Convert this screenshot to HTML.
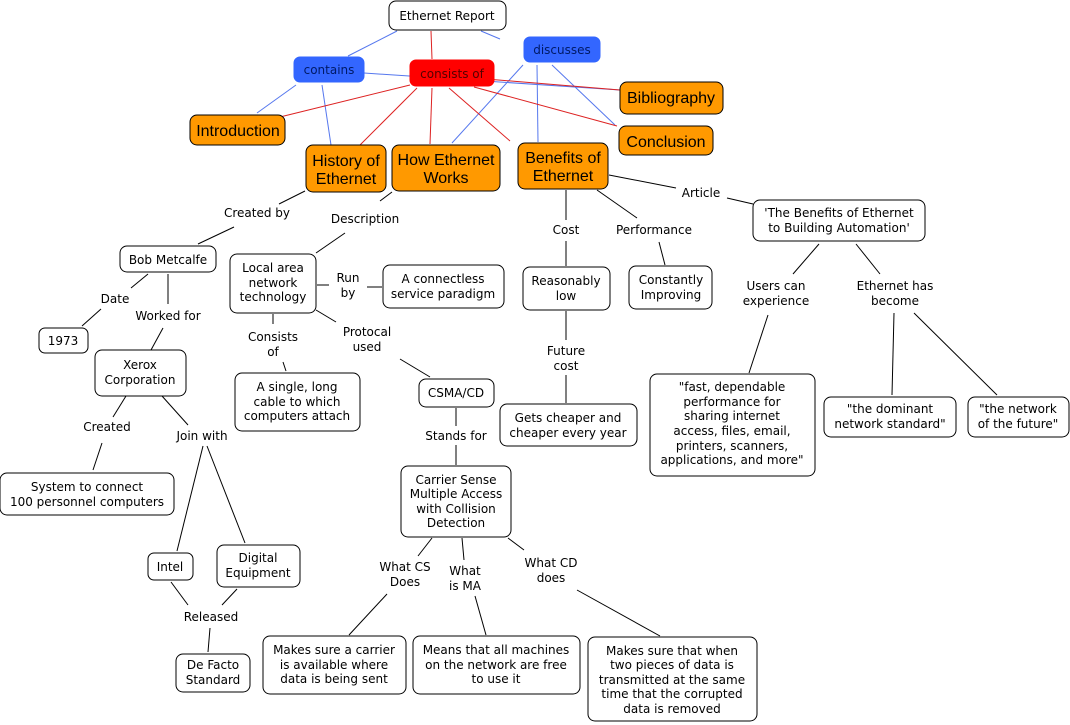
<!DOCTYPE html>
<html><head><meta charset="utf-8"><style>
html,body{margin:0;padding:0;background:#fff;}
svg{display:block;}
.n{fill:#fff;stroke:#000;stroke-width:1;}
.o{fill:#ff9900;stroke:#000;stroke-width:1;}
.b{fill:#3366ff;stroke:#3366ff;}
.r{fill:#ff0000;stroke:#ff0000;}
text{font-family:"DejaVu Sans","Liberation Sans",sans-serif;font-size:12px;fill:#000;text-anchor:middle;}
.big{font-family:"Liberation Sans",sans-serif;font-size:16px;}
.l{stroke:#000;stroke-width:1;fill:none;}
.lb{stroke:#5577ee;stroke-width:1;fill:none;}
.lr{stroke:#dd2222;stroke-width:1;fill:none;}
</style></head><body>
<svg width="1070" height="725" viewBox="0 0 1070 725">
<!-- blue lines -->
<g class="lb">
<line x1="397" y1="31" x2="348" y2="56"/>
<line x1="481" y1="31" x2="500" y2="39"/>
<line x1="296" y1="85" x2="257" y2="113"/>
<line x1="322" y1="85" x2="331" y2="145"/>
<line x1="364" y1="73" x2="620" y2="90"/>
<line x1="523" y1="65" x2="452" y2="143"/>
<line x1="537" y1="65" x2="538" y2="142"/>
<line x1="552" y1="65" x2="615" y2="125"/>
</g>
<g class="lr">
<line x1="431" y1="31" x2="432" y2="59"/>
<line x1="410" y1="85" x2="280" y2="117"/>
<line x1="417" y1="88" x2="360" y2="145"/>
<line x1="432" y1="88" x2="430" y2="144"/>
<line x1="449" y1="88" x2="510" y2="141"/>
<line x1="474" y1="78" x2="620" y2="90"/>
<line x1="474" y1="87" x2="617" y2="126"/>
</g>
<g class="l">
<line x1="305" y1="191" x2="279" y2="204"/>
<line x1="234" y1="227" x2="198" y2="244"/>
<line x1="392" y1="192" x2="380" y2="201"/>
<line x1="345" y1="233" x2="316" y2="253"/>
<line x1="148" y1="274" x2="131" y2="288"/>
<line x1="101" y1="309" x2="82" y2="326"/>
<line x1="168" y1="274" x2="168" y2="304"/>
<line x1="163" y1="328" x2="151" y2="350"/>
<line x1="126" y1="396" x2="113" y2="417"/>
<line x1="102" y1="443" x2="93" y2="470"/>
<line x1="162" y1="396" x2="188" y2="425"/>
<line x1="203" y1="446" x2="177" y2="551"/>
<line x1="207" y1="446" x2="245" y2="543"/>
<line x1="171" y1="582" x2="188" y2="605"/>
<line x1="237" y1="589" x2="222" y2="605"/>
<line x1="210" y1="628" x2="208" y2="652"/>
<line x1="317" y1="285" x2="329" y2="285"/>
<line x1="367" y1="287" x2="382" y2="287"/>
<line x1="273" y1="314" x2="273" y2="324"/>
<line x1="283" y1="362" x2="286" y2="371"/>
<line x1="316" y1="310" x2="336" y2="322"/>
<line x1="400" y1="359" x2="430" y2="377"/>
<line x1="456" y1="408" x2="456" y2="426"/>
<line x1="456" y1="445" x2="456" y2="465"/>
<line x1="432" y1="538" x2="418" y2="556"/>
<line x1="462" y1="538" x2="464" y2="560"/>
<line x1="508" y1="538" x2="524" y2="550"/>
<line x1="387" y1="594" x2="349" y2="635"/>
<line x1="475" y1="596" x2="486" y2="635"/>
<line x1="577" y1="590" x2="660" y2="636"/>
<line x1="566" y1="190" x2="566" y2="220"/>
<line x1="597" y1="190" x2="637" y2="218"/>
<line x1="566" y1="241" x2="566" y2="266"/>
<line x1="659" y1="242" x2="665" y2="265"/>
<line x1="566" y1="311" x2="566" y2="340"/>
<line x1="566" y1="375" x2="566" y2="403"/>
<line x1="609" y1="175" x2="676" y2="188"/>
<line x1="727" y1="198" x2="753" y2="204"/>
<line x1="819" y1="244" x2="793" y2="274"/>
<line x1="856" y1="244" x2="880" y2="274"/>
<line x1="768" y1="315" x2="749" y2="373"/>
<line x1="894" y1="313" x2="892" y2="395"/>
<line x1="914" y1="313" x2="997" y2="395"/>
</g>
<!-- colored nodes -->
<rect x="389" y="1" width="117" height="29" rx="7" class="n"/>
<text x="447" y="20">Ethernet Report</text>
<rect x="294" y="57" width="70" height="25" rx="6" class="b"/>
<text x="329" y="74" style="fill:#001a66">contains</text>
<rect x="410" y="60" width="84" height="26" rx="6" class="r"/>
<text x="452" y="78" style="fill:#550000">consists of</text>
<rect x="524" y="37" width="76" height="25" rx="6" class="b"/>
<text x="562" y="54" style="fill:#001a66">discusses</text>
<rect x="190" y="115" width="95" height="30" rx="7" class="o"/>
<text x="238" y="136" class="big">Introduction</text>
<rect x="306" y="145" width="80" height="47" rx="7" class="o"/>
<text x="346" y="166" class="big">History of</text><text x="346" y="184" class="big">Ethernet</text>
<rect x="392" y="145" width="108" height="46" rx="7" class="o"/>
<text x="446" y="165" class="big">How Ethernet</text><text x="446" y="183" class="big">Works</text>
<rect x="518" y="143" width="90" height="46" rx="7" class="o"/>
<text x="563" y="163" class="big">Benefits of</text><text x="563" y="181" class="big">Ethernet</text>
<rect x="620" y="82" width="103" height="32" rx="7" class="o"/>
<text x="671" y="103" class="big">Bibliography</text>
<rect x="619" y="126" width="94" height="29" rx="7" class="o"/>
<text x="666" y="147" class="big">Conclusion</text>
<!-- white nodes -->
<rect x="120" y="246" width="96" height="26" rx="7" class="n"/>
<text x="168" y="264">Bob Metcalfe</text>
<rect x="39" y="328" width="49" height="25" rx="6" class="n"/>
<text x="63" y="345">1973</text>
<rect x="95" y="350" width="91" height="46" rx="7" class="n"/>
<text x="140" y="369">Xerox</text><text x="140" y="384">Corporation</text>
<rect x="0" y="473" width="174" height="42" rx="7" class="n"/>
<text x="87" y="491">System to connect</text><text x="87" y="506">100 personnel computers</text>
<rect x="148" y="553" width="45" height="27" rx="6" class="n"/>
<text x="170" y="571">Intel</text>
<rect x="217" y="545" width="83" height="42" rx="7" class="n"/>
<text x="258" y="562">Digital</text><text x="258" y="577">Equipment</text>
<rect x="176" y="654" width="74" height="38" rx="7" class="n"/>
<text x="213" y="669">De Facto</text><text x="213" y="684">Standard</text>
<rect x="230" y="254" width="86" height="59" rx="7" class="n"/>
<text x="273" y="272">Local area</text><text x="273" y="287">network</text><text x="273" y="301">technology</text>
<rect x="383" y="265" width="121" height="43" rx="7" class="n"/>
<text x="443" y="283">A connectless</text><text x="443" y="298">service paradigm</text>
<rect x="235" y="373" width="125" height="58" rx="7" class="n"/>
<text x="297" y="391">A single, long</text><text x="297" y="406">cable to which</text><text x="297" y="420">computers attach</text>
<rect x="419" y="379" width="75" height="28" rx="7" class="n"/>
<text x="456" y="397">CSMA/CD</text>
<rect x="401" y="466" width="110" height="71" rx="7" class="n"/>
<text x="456" y="484">Carrier Sense</text><text x="456" y="498">Multiple Access</text><text x="456" y="513">with Collision</text><text x="456" y="527">Detection</text>
<rect x="263" y="636" width="143" height="58" rx="7" class="n"/>
<text x="334" y="654">Makes sure a carrier</text><text x="334" y="669">is available where</text><text x="334" y="683">data is being sent</text>
<rect x="413" y="636" width="167" height="58" rx="7" class="n"/>
<text x="496" y="654">Means that all machines</text><text x="496" y="669">on the network are free</text><text x="496" y="683">to use it</text>
<rect x="588" y="637" width="169" height="84" rx="7" class="n"/>
<text x="672" y="655">Makes sure that when</text><text x="672" y="669">two pieces of data is</text><text x="672" y="684">transmitted at the same</text><text x="672" y="698">time that the corrupted</text><text x="672" y="713">data is removed</text>
<rect x="523" y="267" width="87" height="43" rx="7" class="n"/>
<text x="566" y="285">Reasonably</text><text x="566" y="300">low</text>
<rect x="629" y="266" width="83" height="43" rx="7" class="n"/>
<text x="671" y="284">Constantly</text><text x="671" y="299">Improving</text>
<rect x="500" y="404" width="137" height="42" rx="7" class="n"/>
<text x="568" y="422">Gets cheaper and</text><text x="568" y="437">cheaper every year</text>
<rect x="753" y="200" width="172" height="41" rx="7" class="n"/>
<text x="839" y="217">'The Benefits of Ethernet</text><text x="839" y="232">to Building Automation'</text>
<rect x="650" y="374" width="165" height="102" rx="7" class="n"/>
<text x="732" y="391">"fast, dependable</text><text x="732" y="406">performance for</text><text x="732" y="420">sharing internet</text><text x="732" y="435">access, files, email,</text><text x="732" y="450">printers, scanners,</text><text x="732" y="464">applications, and more"</text>
<rect x="824" y="397" width="132" height="40" rx="7" class="n"/>
<text x="890" y="413">"the dominant</text><text x="890" y="428">network standard"</text>
<rect x="968" y="397" width="101" height="40" rx="7" class="n"/>
<text x="1018" y="413">"the network</text><text x="1018" y="428">of the future"</text>
<!-- labels -->
<text x="257" y="217">Created by</text>
<text x="365" y="223">Description</text>
<text x="115" y="303">Date</text>
<text x="168" y="320">Worked for</text>
<text x="107" y="431">Created</text>
<text x="202" y="440">Join with</text>
<text x="211" y="621">Released</text>
<text x="348" y="282">Run</text><text x="348" y="297">by</text>
<text x="273" y="341">Consists</text><text x="273" y="356">of</text>
<text x="367" y="336">Protocal</text><text x="367" y="351">used</text>
<text x="456" y="440">Stands for</text>
<text x="405" y="571">What CS</text><text x="405" y="586">Does</text>
<text x="465" y="575">What</text><text x="465" y="590">is MA</text>
<text x="551" y="567">What CD</text><text x="551" y="582">does</text>
<text x="566" y="234">Cost</text>
<text x="654" y="234">Performance</text>
<text x="566" y="355">Future</text><text x="566" y="370">cost</text>
<text x="701" y="197">Article</text>
<text x="776" y="290">Users can</text><text x="776" y="305">experience</text>
<text x="895" y="290">Ethernet has</text><text x="895" y="305">become</text>
</svg>
</body></html>
